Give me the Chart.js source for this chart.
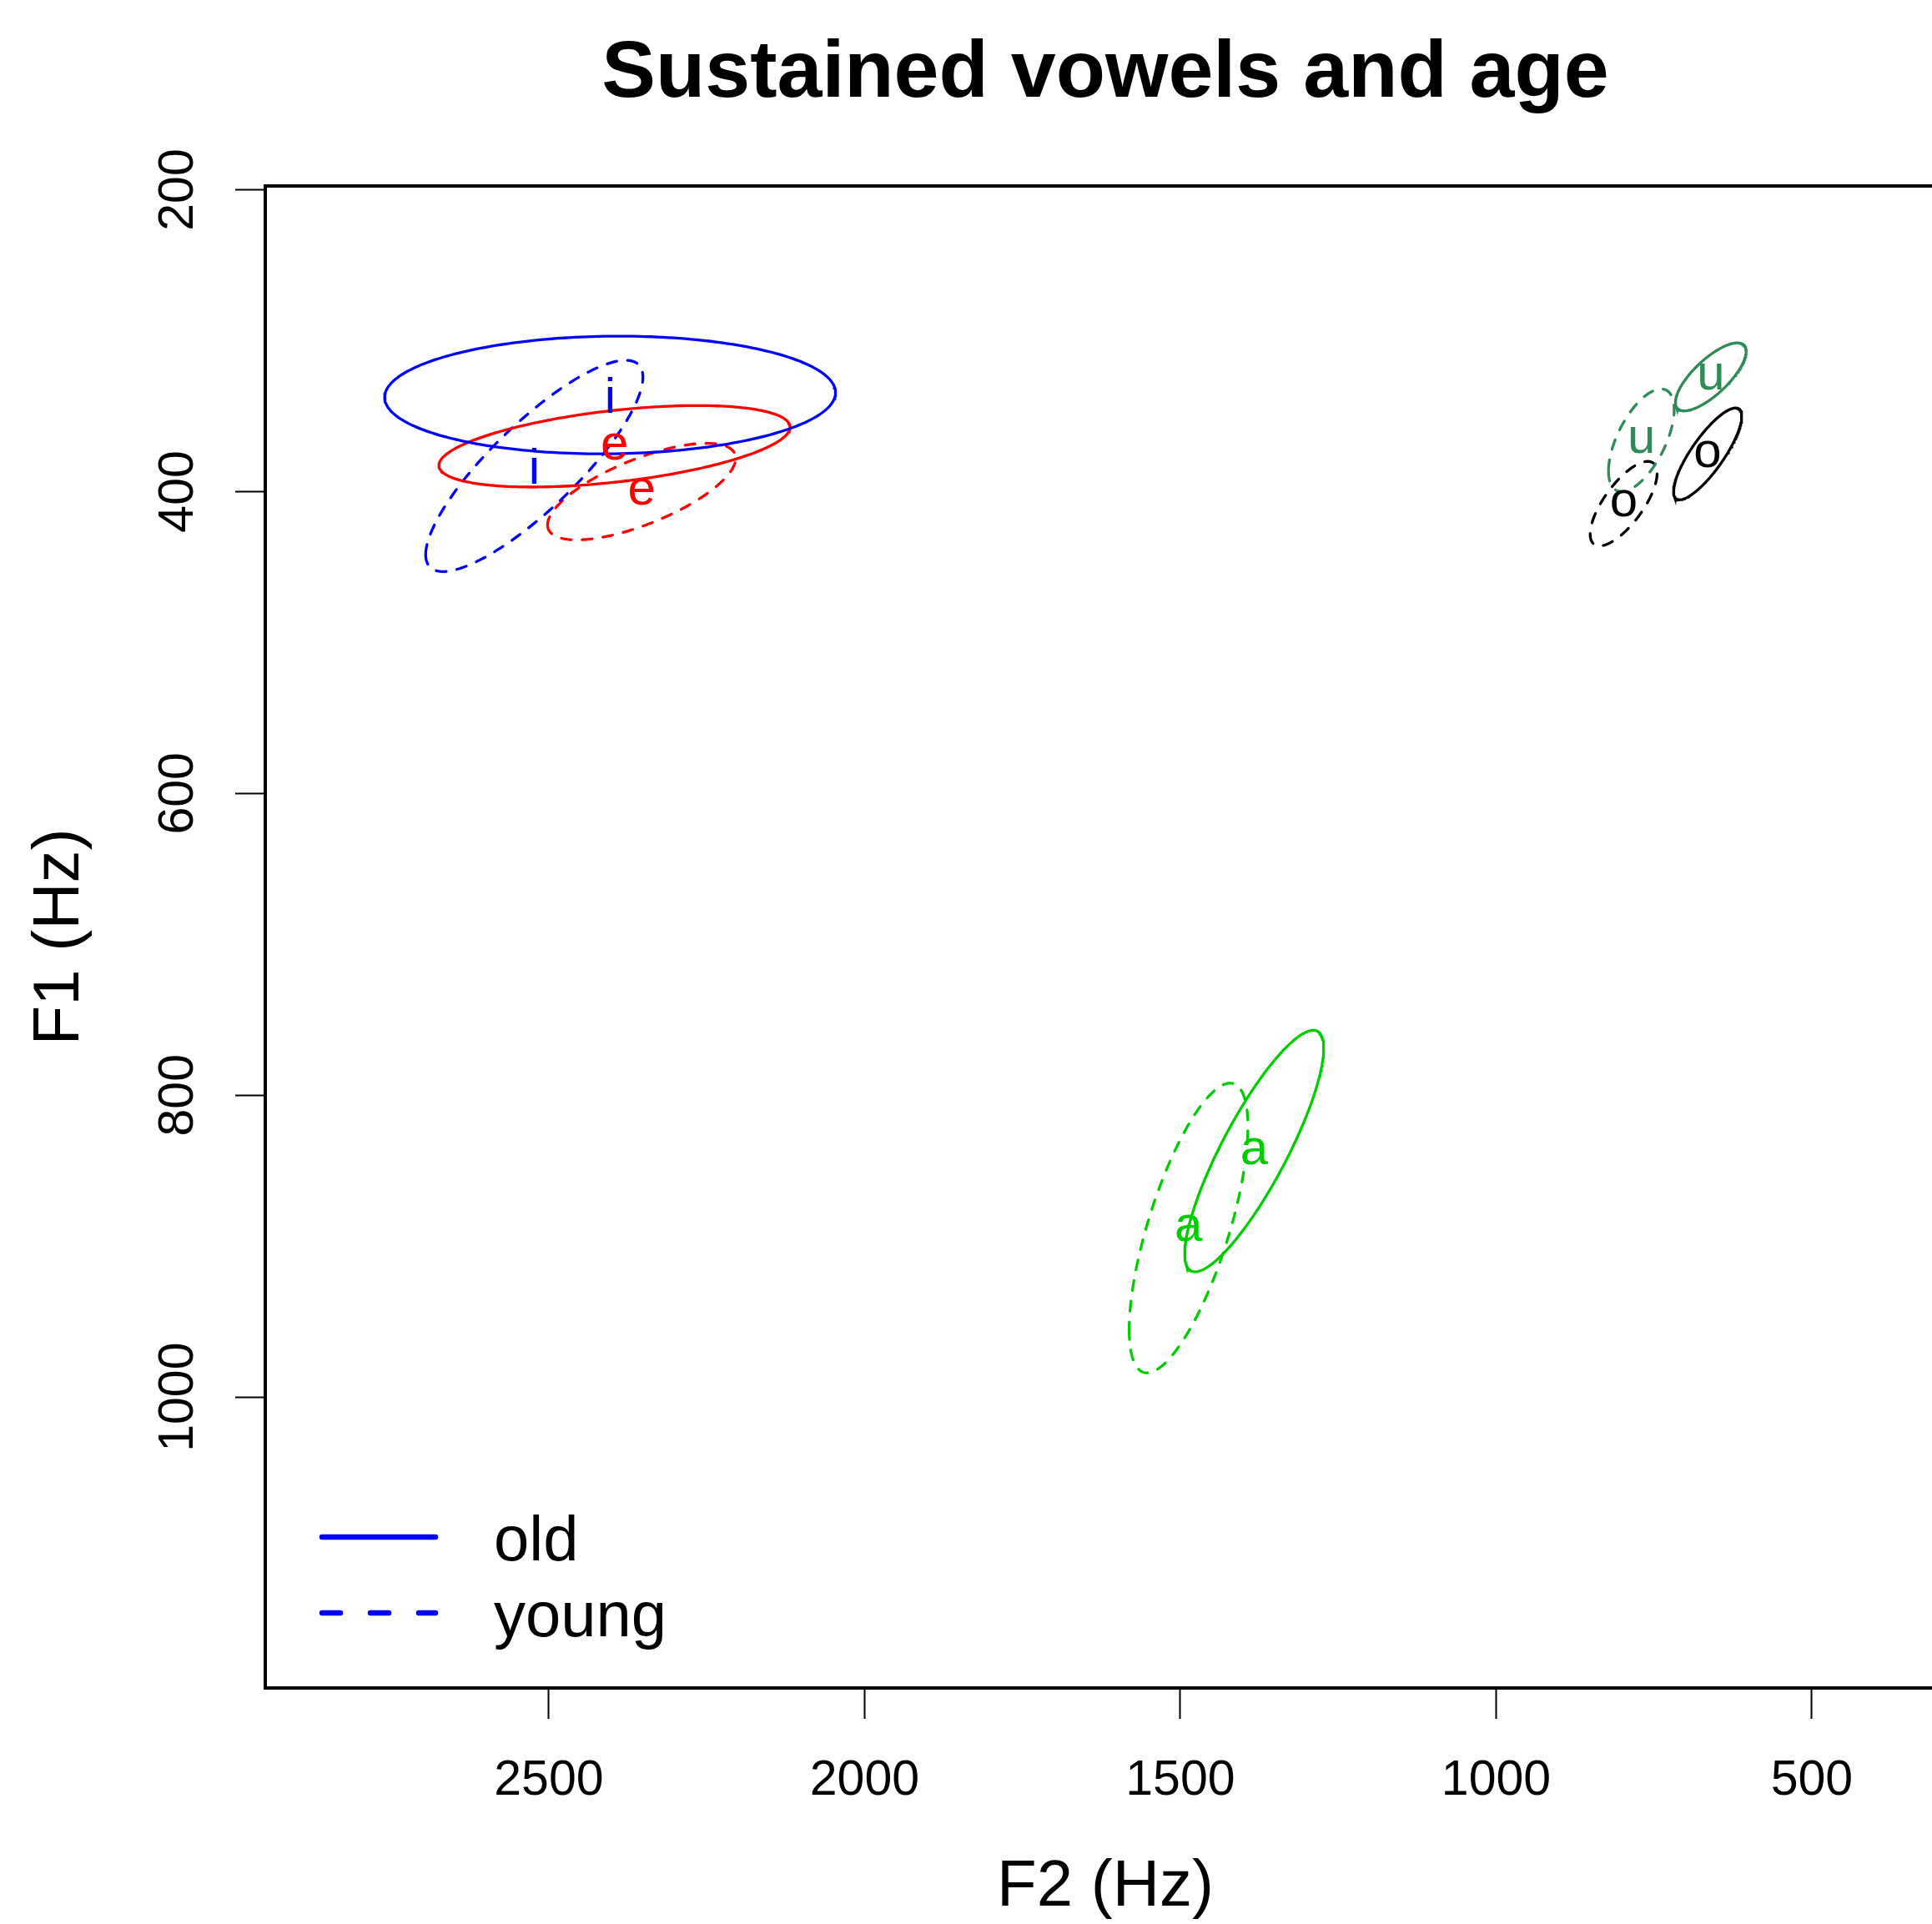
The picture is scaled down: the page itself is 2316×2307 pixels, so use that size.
<!DOCTYPE html>
<html><head><meta charset="utf-8">
<script src="https://cdn.jsdelivr.net/npm/chart.js@4.4.1/dist/chart.umd.min.js"></script>
<style>html,body{margin:0;padding:0;overflow:hidden;background:#fff}canvas{display:block}</style>
</head><body>
<canvas id="c" width="2360" height="2307"></canvas>
<script>
// ---- data ----
const vowels = ['i', 'e', 'a', 'u', 'o'];
const groups = ['old', 'young'];
// old speakers: ellipse centre, half-range on each axis, correlation
const oldF2 = [2403, 2396, 1383, 660, 665];
const oldF1 = [336, 370, 837, 324, 375];
const oldF2Spread = [357, 278, 110, 56, 54];
const oldF1Spread = [39, 27, 80, 22.5, 30.4];
const oldCorr = [0.04, 0.47, 0.85, 0.75, 0.82];
// young speakers
const youngF2 = [2523, 2353, 1487, 770, 798];
const youngF1 = [383, 400, 888, 366, 408];
const youngF2Spread = [172, 149, 94, 52, 53];
const youngF1Spread = [70, 32, 96, 34, 28];
const youngCorr = [0.84, 0.69, 0.70, 0.60, 0.72];
// axes
const xTicks = [2500, 2000, 1500, 1000, 500];
const yTicks = [200, 400, 600, 800, 1000];

// ---- styles ----
const FONT = '"Liberation Sans", Arial, Helvetica, sans-serif';
const vowelColors = { i: '#0000FF', e: '#FF0000', a: '#00CD00', u: '#2E8B57', o: '#000000' };
const groupDash = { old: [], young: [12, 13] };

function ellipsePoints(cx, cy, rx, ry, rho) {
  const d = Math.acos(rho);
  const pts = [];
  for (let k = 0; k <= 240; k++) {
    const t = 2 * Math.PI * k / 240;
    pts.push({ x: cx + rx * Math.cos(t), y: cy + ry * Math.cos(t - d) });
  }
  return pts;
}

const groupData = {
  old: [oldF2, oldF1, oldF2Spread, oldF1Spread, oldCorr],
  young: [youngF2, youngF1, youngF2Spread, youngF1Spread, youngCorr]
};
const datasets = [];
groups.forEach(g => {
  const [f2, f1, s2, s1, r] = groupData[g];
  vowels.forEach((v, i) => {
    datasets.push({
      label: g + ' ' + v,
      vowel: v, cx: f2[i], cy: f1[i],
      data: ellipsePoints(f2[i], f1[i], s2[i], s1[i], r[i]),
      showLine: true, pointRadius: 0, borderWidth: 3.3,
      borderColor: vowelColors[v], backgroundColor: vowelColors[v],
      borderDash: groupDash[g], borderCapStyle: 'round', fill: false, tension: 0
    });
  });
});

const labelPlugin = {
  id: 'vowelLabels',
  afterDatasetsDraw(chart) {
    const { ctx, scales: { x, y } } = chart;
    ctx.save();
    ctx.font = '60px ' + FONT;
    ctx.textAlign = 'center';
    ctx.textBaseline = 'alphabetic';
    chart.data.datasets.forEach(ds => {
      const px = x.getPixelForValue(ds.cx), py = y.getPixelForValue(ds.cy);
      const m = ctx.measureText(ds.vowel);
      const off = (m.actualBoundingBoxAscent - m.actualBoundingBoxDescent) / 2;
      ctx.fillStyle = ds.borderColor;
      ctx.fillText(ds.vowel, px, py + off);
    });
    ctx.restore();
  }
};

const boxLegendPlugin = {
  id: 'boxLegend',
  afterDraw(chart) {
    const { ctx, chartArea: a } = chart;
    ctx.save();
    ctx.strokeStyle = '#000';
    ctx.lineWidth = 4;
    ctx.strokeRect(a.left, a.top, a.right - a.left, a.bottom - a.top);
    // legend (bottom-left, inside plot)
    const x0 = a.left + 68, x1 = a.left + 204;
    const rows = [a.bottom - 181, a.bottom - 90];
    ctx.lineCap = 'round';
    ctx.lineWidth = 6.5;
    ctx.strokeStyle = '#0000FF';
    groups.forEach((g, k) => {
      ctx.setLineDash(k === 0 ? [] : [22, 36]);
      ctx.beginPath(); ctx.moveTo(x0, rows[k]); ctx.lineTo(x1, rows[k]); ctx.stroke();
    });
    ctx.setLineDash([]);
    ctx.fillStyle = '#000';
    ctx.font = '76px ' + FONT;
    ctx.textAlign = 'left';
    ctx.textBaseline = 'alphabetic';
    groups.forEach((g, k) => ctx.fillText(g, a.left + 274, rows[k] + 28));
    ctx.restore();
  }
};

Chart.defaults.font.family = FONT;
Chart.defaults.color = '#000';

new Chart(document.getElementById('c'), {
  type: 'scatter',
  data: { datasets },
  options: {
    responsive: false, animation: false, devicePixelRatio: 1,
    layout: { padding: { left: 0, right: 28, top: 0, bottom: 0 } },
    plugins: {
      legend: { display: false }, tooltip: { enabled: false },
      title: {
        display: true, text: 'Sustained vowels and age', fullSize: false, color: '#000',
        font: { size: 97, weight: 'bold', lineHeight: 1 }, padding: { top: 41, bottom: 85 }
      }
    },
    scales: {
      x: {
        type: 'linear', reverse: true, min: 288.6, max: 2949,
        afterBuildTicks: s => { s.ticks = xTicks.map(v => ({ value: v })); },
        afterFit: s => { s.height = 283; },
        grid: { drawOnChartArea: false, drawTicks: true, tickLength: 37, tickColor: '#000', tickWidth: 2 },
        border: { display: false },
        ticks: { color: '#000', font: { size: 59 }, padding: 39, minRotation: 0, maxRotation: 0, autoSkip: false, callback: v => String(v) },
        title: { display: true, text: 'F2 (Hz)', color: '#000', font: { size: 78, lineHeight: 1 }, padding: { top: 0, bottom: 5 } }
      },
      y: {
        type: 'linear', reverse: true, min: 197.5, max: 1192.8,
        afterBuildTicks: s => { s.ticks = yTicks.map(v => ({ value: v })); },
        afterFit: s => { s.width = 318; },
        grid: { drawOnChartArea: false, drawTicks: true, tickLength: 36, tickColor: '#000', tickWidth: 2 },
        border: { display: false },
        ticks: { color: '#000', font: { size: 59 }, padding: 2, minRotation: 90, maxRotation: 90, crossAlign: 'center', autoSkip: false, callback: v => String(v) },
        title: { display: true, text: 'F1 (Hz)', color: '#000', font: { size: 78, lineHeight: 1 }, padding: { top: 33, bottom: 0 } }
      }
    }
  },
  plugins: [labelPlugin, boxLegendPlugin]
});
</script>
</body></html>
